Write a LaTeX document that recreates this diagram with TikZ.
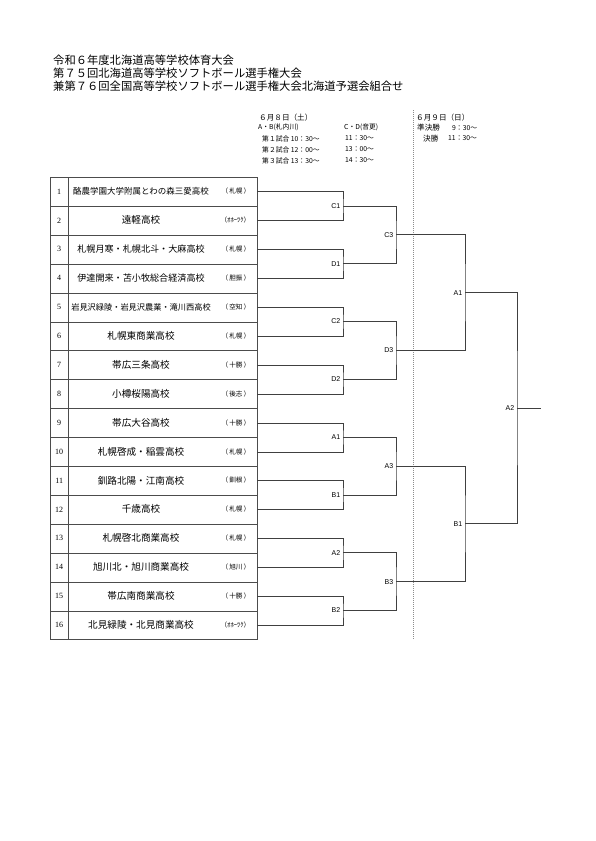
\documentclass[tikz,border=0pt]{standalone}
\usepackage{fontspec}
\setmainfont{Noto Sans CJK JP}
\newfontfamily\numfont{Liberation Serif}
\newfontfamily\labfont{Liberation Sans}
\begin{document}
\begin{tikzpicture}[x=1pt,y=-1pt,
  rowbox/.style={draw=black!70, line width=0.7pt, minimum width=206.7pt, minimum height=28.9pt, inner sep=0pt, anchor=north west},
  numtxt/.style={font=\numfont\fontsize{8}{8}\selectfont, inner sep=0pt},
  regtxt/.style={font=\fontsize{6.6}{6.6}\selectfont, inner sep=0pt, anchor=east},
  titletxt/.style={font=\fontsize{11.3}{11.3}\selectfont, inner sep=0pt, anchor=west},
  headtxt/.style={font=\fontsize{7.6}{7.6}\selectfont, inner sep=0pt, anchor=west},
  smalltxt/.style={font=\fontsize{6.8}{6.8}\selectfont, inner sep=0pt, anchor=west},
  brline/.style={draw=black!75, line width=0.7pt},
  lab/.style={font=\labfont\fontsize{7}{7}\selectfont, inner sep=2.5pt},
  divline/.style={draw=black!45, line width=0.8pt, dash pattern=on 1pt off 1pt}
]
\useasboundingbox (0,0) rectangle (595,841);

% title
\node[titletxt] (ti1) at (53,60) {令和６年度北海道高等学校体育大会};
\node[titletxt] (ti2) at (53,73) {第７５回北海道高等学校ソフトボール選手権大会};
\node[titletxt] (ti3) at (53,86) {兼第７６回全国高等学校ソフトボール選手権大会北海道予選会組合せ};

% schedule header
\node[headtxt] (h1) at (259,117.5) {６月８日（土）};
\node[smalltxt] (h2) at (258,127.5) {A・B(札内川)};
\node[smalltxt] (h3) at (344,127.5) {C・D(音更)};
\node[smalltxt] (h4) at (262,138.5) {第１試合 10：30～};
\node[smalltxt] (h5) at (345,138.5) {11：30～};
\node[smalltxt] (h6) at (262,149.5) {第２試合 12：00～};
\node[smalltxt] (h7) at (345,149.5) {13：00～};
\node[smalltxt] (h8) at (262,160.5) {第３試合 13：30～};
\node[smalltxt] (h9) at (345,160.5) {14：30～};
\node[headtxt] (g1) at (416,117.5) {６月９日（日）};
\node[headtxt] (g2) at (417,128) {準決勝};
\node[smalltxt] (g3) at (452,128) {9：30～};
\node[headtxt] (g4) at (423,138.5) {決勝};
\node[smalltxt] (g5) at (448,138.5) {11：30～};

% dotted divider
\coordinate (dvt) at (413.3,110);
\coordinate (dvb) at (413.3,639);
\draw[divline] (dvt) -- (dvb);

% table rows
\foreach \i/\n/\r/\s in {
  1/酪農学園大学附属とわの森三愛高校/（\,札幌\,）/8.5,
  2/遠軽高校/（ｵﾎｰﾂｸ）/9.6,
  3/札幌月寒・札幌北斗・大麻高校/（\,札幌\,）/9.1,
  4/伊達開来・苫小牧総合経済高校/（\,胆振\,）/9.1,
  5/岩見沢緑陵・岩見沢農業・滝川西高校/（\,空知\,）/8.2,
  6/札幌東商業高校/（\,札幌\,）/9.6,
  7/帯広三条高校/（\,十勝\,）/9.6,
  8/小樽桜陽高校/（\,後志\,）/9.6,
  9/帯広大谷高校/（\,十勝\,）/9.6,
  10/札幌啓成・稲雲高校/（\,札幌\,）/9.6,
  11/釧路北陽・江南高校/（\,釧根\,）/9.6,
  12/千歳高校/（\,札幌\,）/9.6,
  13/札幌啓北商業高校/（\,札幌\,）/9.6,
  14/旭川北・旭川商業高校/（\,旭川\,）/9.6,
  15/帯広南商業高校/（\,十勝\,）/9.6,
  16/北見緑陵・北見商業高校/（ｵﾎｰﾂｸ）/9.6}{
  \node[rowbox] (r\i) at (50,{177+28.9*(\i-1)}) {};
  \node[numtxt] (n\i) at (59.2,{177+28.9*(\i-0.5)}) {\i};
  \node[inner sep=0pt, font=\fontsize{\s}{\s}\selectfont] (t\i) at (141,{177+28.9*(\i-0.5)}) {\n};
  \node[regtxt] (g\i) at (250.5,{177+28.9*(\i-0.5)}) {\r};
}
\coordinate (ct) at (68.3,177);
\coordinate (cb) at (68.3,639.4);
\draw[draw=black!70, line width=0.7pt] (ct) -- (cb);

% first round
\coordinate[label={[lab]left:C1}] (m1) at (343,{177+28.9*1});
\coordinate[label={[lab]left:D1}] (m2) at (343,{177+28.9*3});
\coordinate[label={[lab]left:C2}] (m3) at (343,{177+28.9*5});
\coordinate[label={[lab]left:D2}] (m4) at (343,{177+28.9*7});
\coordinate[label={[lab]left:A1}] (m5) at (343,{177+28.9*9});
\coordinate[label={[lab]left:B1}] (m6) at (343,{177+28.9*11});
\coordinate[label={[lab]left:A2}] (m7) at (343,{177+28.9*13});
\coordinate[label={[lab]left:B2}] (m8) at (343,{177+28.9*15});
\draw[brline] (r1.east) -| (m1) |- (r2.east);
\draw[brline] (r3.east) -| (m2) |- (r4.east);
\draw[brline] (r5.east) -| (m3) |- (r6.east);
\draw[brline] (r7.east) -| (m4) |- (r8.east);
\draw[brline] (r9.east) -| (m5) |- (r10.east);
\draw[brline] (r11.east) -| (m6) |- (r12.east);
\draw[brline] (r13.east) -| (m7) |- (r14.east);
\draw[brline] (r15.east) -| (m8) |- (r16.east);

% second round
\coordinate[label={[lab]left:C3}] (q1) at (396,{177+28.9*2});
\coordinate[label={[lab]left:D3}] (q2) at (396,{177+28.9*6});
\coordinate[label={[lab]left:A3}] (q3) at (396,{177+28.9*10});
\coordinate[label={[lab]left:B3}] (q4) at (396,{177+28.9*14});
\draw[brline] (m1) -| (q1) |- (m2);
\draw[brline] (m3) -| (q2) |- (m4);
\draw[brline] (m5) -| (q3) |- (m6);
\draw[brline] (m7) -| (q4) |- (m8);

% semifinals
\coordinate[label={[lab]left:A1}] (s1) at (465,{177+28.9*4});
\coordinate[label={[lab]left:B1}] (s2) at (465,{177+28.9*12});
\draw[brline] (q1) -| (s1) |- (q2);
\draw[brline] (q3) -| (s2) |- (q4);

% final
\coordinate[label={[lab]left:A2}] (fn) at (517,{177+28.9*8});
\coordinate (fe) at (541,{177+28.9*8});
\draw[brline] (s1) -| (fn) |- (s2);
\draw[brline] (fn) -- (fe);
\end{tikzpicture}
\end{document}
